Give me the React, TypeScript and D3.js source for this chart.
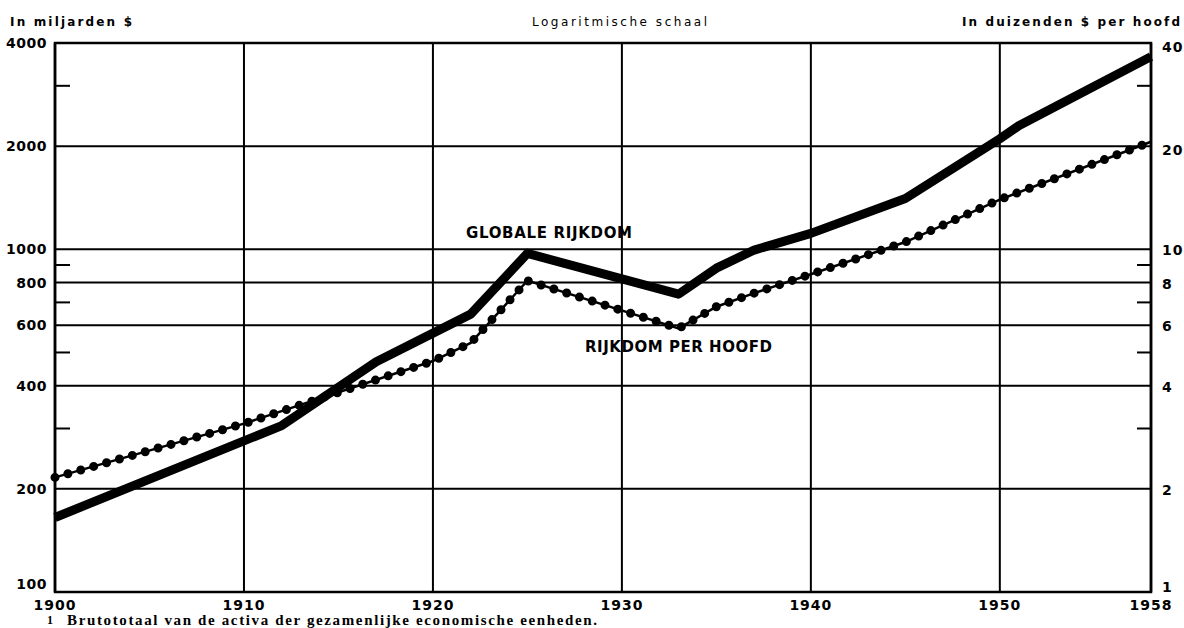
import { useRef, useEffect } from "react"
import * as d3 from "d3"

// Globale rijkdom, in miljarden $ (linker as)
const globalYears = [1900, 1912, 1917, 1922, 1925, 1933, 1935, 1937, 1940, 1945, 1950, 1951, 1958]
const globalValues = [165, 306, 470, 647, 973, 740, 881, 995, 1113, 1407, 2102, 2293, 3650]

// Rijkdom per hoofd, in duizenden $ (rechter as)
const perHeadYears = [1900, 1910, 1920, 1922, 1925, 1933, 1935, 1937, 1940, 1945, 1950, 1958]
const perHeadValues = [2.16, 3.1, 4.72, 5.33, 8.1, 5.88, 6.8, 7.45, 8.46, 10.5, 13.97, 20.6]

const xTicks = [1900, 1910, 1920, 1930, 1940, 1950, 1958]
const leftLabels = [100, 200, 400, 600, 800, 1000, 2000, 4000]
const leftMinor = [300, 500, 700, 900, 3000]
const rightLabels = [1, 2, 4, 6, 8, 10, 20, 40]
const rightMinor = [3, 5, 7, 9, 30]

export default function App() {
  const svgRef = useRef<SVGSVGElement>(null)

  function drawChart() {
    const width = 1184
    const height = 628
    const left = 55
    const right = 1151
    const top = 43
    const bottom = 592
    const sans = "'DejaVu Sans', sans-serif"

    const svg = d3.select(svgRef.current).attr("width", width).attr("height", height)
    svg.selectAll("*").remove()

    const x = d3.scaleLinear().domain([1900, 1958]).range([left, right])
    const yL = d3.scaleLog().domain([100, 4000]).range([bottom, top])
    const yR = d3.scaleLog().domain([1, 40]).range([bottom, top])

    // Grid
    const grid = svg.append("g").attr("stroke", "#000")
    grid
      .selectAll("line.h")
      .data(leftLabels)
      .enter()
      .append("line")
      .attr("x1", left)
      .attr("x2", right)
      .attr("y1", (d) => yL(d))
      .attr("y2", (d) => yL(d))
      .attr("stroke-width", 2)
    grid
      .selectAll("line.v")
      .data(xTicks)
      .enter()
      .append("line")
      .attr("x1", (d) => x(d))
      .attr("x2", (d) => x(d))
      .attr("y1", top)
      .attr("y2", bottom)
      .attr("stroke-width", (d, i) => (i === 0 || i === xTicks.length - 1 ? 2.5 : 2))
    grid
      .append("rect")
      .attr("x", left)
      .attr("y", top)
      .attr("width", right - left)
      .attr("height", bottom - top)
      .attr("fill", "none")
      .attr("stroke-width", 2.5)

    // Minor ticks
    grid
      .selectAll("line.ml")
      .data(leftMinor)
      .enter()
      .append("line")
      .attr("x1", left)
      .attr("x2", left + 15)
      .attr("y1", (d) => yL(d))
      .attr("y2", (d) => yL(d))
      .attr("stroke-width", 2)
    grid
      .selectAll("line.mr")
      .data(rightMinor)
      .enter()
      .append("line")
      .attr("x1", right - 14)
      .attr("x2", right)
      .attr("y1", (d) => yR(d))
      .attr("y2", (d) => yR(d))
      .attr("stroke-width", 2)

    // Tick labels
    const tickStyle = (sel: any) =>
      sel.style("font-family", sans).style("font-size", "14px").style("font-weight", "bold").attr("fill", "#000")

    svg
      .append("g")
      .selectAll("text")
      .data(leftLabels)
      .enter()
      .append("text")
      .text((d) => d)
      .attr("x", 47)
      .attr("y", (d) => yL(d) + (d === 100 ? -3 : 5))
      .attr("text-anchor", "end")
      .attr("letter-spacing", 0.5)
      .call(tickStyle)

    svg
      .append("g")
      .selectAll("text")
      .data(rightLabels)
      .enter()
      .append("text")
      .text((d) => d)
      .attr("x", 1162)
      .attr("y", (d) => yR(d) + (d === 1 ? 0 : d >= 20 ? 9 : 6))
      .attr("letter-spacing", 1)
      .call(tickStyle)

    svg
      .append("g")
      .selectAll("text")
      .data(xTicks)
      .enter()
      .append("text")
      .text((d) => d)
      .attr("x", (d) => x(d))
      .attr("y", 610)
      .attr("text-anchor", "middle")
      .attr("letter-spacing", 1)
      .call(tickStyle)

    // Headers
    const headers = [
      { t: "In miljarden $", x: 10, len: 122, w: "bold" },
      { t: "Logaritmische schaal", x: 532, len: 175, w: "normal" },
      { t: "In duizenden $ per hoofd", x: 962, len: 218, w: "bold" },
    ]
    svg
      .append("g")
      .selectAll("text")
      .data(headers)
      .enter()
      .append("text")
      .text((d) => d.t)
      .attr("x", (d) => d.x)
      .attr("y", 26)
      .attr("textLength", (d) => d.len)
      .attr("lengthAdjust", "spacing")
      .style("font-family", sans)
      .style("font-size", "12px")
      .style("font-weight", (d) => d.w)

    // Lines
    const lineL = d3
      .line<number>()
      .x((d, i) => x(globalYears[i]))
      .y((d) => yL(d))
    const lineR = d3
      .line<number>()
      .x((d, i) => x(perHeadYears[i]))
      .y((d) => yR(d))

    svg
      .append("path")
      .attr("d", lineR(perHeadValues))
      .attr("fill", "none")
      .attr("stroke", "#000")
      .attr("stroke-width", 2.5)
    svg
      .append("path")
      .attr("d", lineR(perHeadValues))
      .attr("fill", "none")
      .attr("stroke", "#000")
      .attr("stroke-width", 9)
      .attr("stroke-linecap", "round")
      .attr("stroke-dasharray", "0 13.4")

    svg
      .append("path")
      .attr("d", lineL(globalValues))
      .attr("fill", "none")
      .attr("stroke", "#000")
      .attr("stroke-width", 9)
      .attr("stroke-linejoin", "round")

    // Series labels
    const labels = [
      { t: "GLOBALE RIJKDOM", x: 466, y: 238, len: 166 },
      { t: "RIJKDOM PER HOOFD", x: 585, y: 352, len: 187 },
    ]
    svg
      .append("g")
      .selectAll("text")
      .data(labels)
      .enter()
      .append("text")
      .text((d) => d.t)
      .attr("x", (d) => d.x)
      .attr("y", (d) => d.y)
      .attr("textLength", (d) => d.len)
      .attr("lengthAdjust", "spacing")
      .style("font-family", sans)
      .style("font-size", "15px")
      .style("font-weight", "bold")

    // Footnote
    svg
      .append("text")
      .text("1")
      .attr("x", 47)
      .attr("y", 624)
      .style("font-family", "'Liberation Serif', serif")
      .style("font-size", "12px")
      .style("font-weight", "bold")
    svg
      .append("text")
      .text("Brutototaal van de activa der gezamenlijke economische eenheden.")
      .attr("x", 67)
      .attr("y", 625)
      .attr("textLength", 530)
      .attr("lengthAdjust", "spacing")
      .style("font-family", "'Liberation Serif', serif")
      .style("font-size", "15px")
      .style("font-weight", "bold")
  }

  useEffect(() => {
    drawChart()
  }, [svgRef])

  return (
    <div style={{ position: "absolute", left: 0, top: 0, background: "#fff" }}>
      <svg ref={svgRef}></svg>
    </div>
  )
}
